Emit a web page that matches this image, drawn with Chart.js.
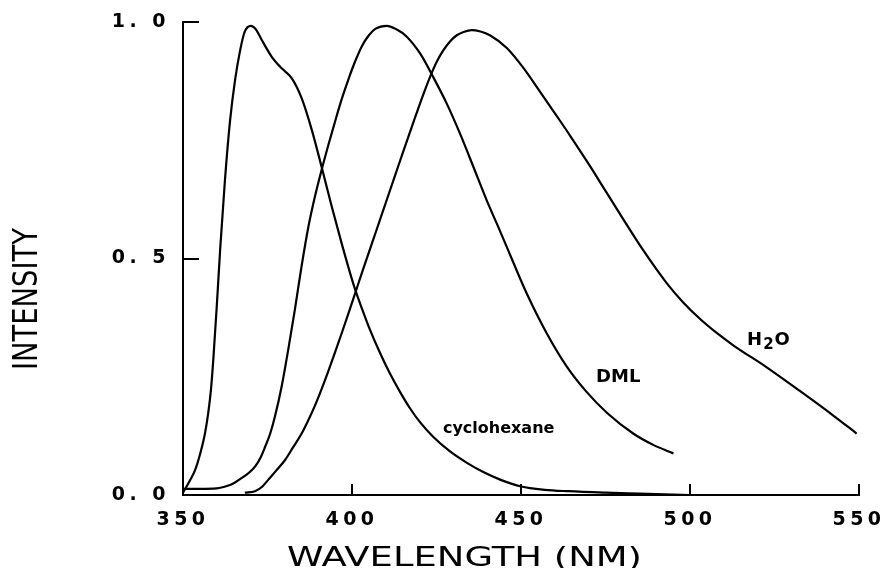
<!DOCTYPE html>
<html>
<head>
<meta charset="utf-8">
<script src="https://cdn.jsdelivr.net/npm/chart.js@4"></script>
<style>
  html, body { margin: 0; padding: 0; background: #fff; }
  #c { display: block; }
</style>
</head>
<body>
<canvas id="c" width="885" height="568"></canvas>
<script>
// ---- data ----
const cycloWavelength = [350, 352, 353.6, 355, 356.5, 357.5, 358.3, 359, 360, 361, 362.4, 363.9, 365.4, 366.9, 368.3, 370.1, 371.5, 373.3, 376.2, 379.2, 382.2, 385.1, 388.1, 391, 394, 396.9, 399.9, 401, 403, 405, 408, 411, 414.2, 417, 420, 424, 429, 434, 439, 444, 450, 457, 464, 475, 485, 495, 500];
const cycloIntensity  = [0.005, 0.03, 0.053, 0.085, 0.13, 0.175, 0.225, 0.29, 0.4, 0.52, 0.665, 0.79, 0.877, 0.94, 0.98, 0.992, 0.985, 0.962, 0.927, 0.902, 0.881, 0.839, 0.772, 0.694, 0.61, 0.533, 0.458, 0.433, 0.393, 0.355, 0.305, 0.26, 0.218, 0.185, 0.155, 0.123, 0.092, 0.068, 0.048, 0.032, 0.018, 0.011, 0.008, 0.005, 0.003, 0.001, 0];

const dmlWavelength = [350, 355, 360, 362, 363.9, 365.5, 367.4, 369.5, 371.3, 373, 374.3, 375.8, 377.2, 379.2, 381.2, 383.1, 385, 387.1, 389, 391, 393, 395, 397, 399, 401, 403, 405, 407, 410.3, 413, 416.2, 420.1, 424, 428, 431.9, 435.9, 439.8, 443.8, 447.7, 451.7, 457.6, 463.5, 469.4, 475.4, 483.2, 489.1, 495.1];
const dmlIntensity  = [0.013, 0.013, 0.014, 0.017, 0.021, 0.027, 0.036, 0.047, 0.06, 0.08, 0.102, 0.13, 0.166, 0.23, 0.31, 0.392, 0.48, 0.567, 0.63, 0.687, 0.74, 0.79, 0.838, 0.88, 0.918, 0.95, 0.972, 0.986, 0.992, 0.985, 0.969, 0.934, 0.884, 0.828, 0.765, 0.694, 0.624, 0.558, 0.492, 0.426, 0.342, 0.272, 0.218, 0.174, 0.13, 0.106, 0.088];

const waterWavelength = [368.3, 371.3, 373.5, 375.2, 377.5, 380.2, 382.5, 385.1, 387, 389.1, 391, 393, 395, 397, 399, 401, 403, 405, 407, 409, 411, 413, 415, 417, 419, 421, 423.1, 425, 427, 429, 431, 433, 435.4, 438, 440.8, 445.8, 450.7, 455.6, 460.6, 464.5, 470, 475, 480, 486.1, 493.1, 498, 503, 508, 512.9, 522.7, 532.5, 542.4, 549.3];
const waterIntensity  = [0.005, 0.008, 0.018, 0.032, 0.051, 0.074, 0.1, 0.13, 0.157, 0.19, 0.224, 0.262, 0.302, 0.343, 0.385, 0.428, 0.471, 0.513, 0.555, 0.597, 0.639, 0.681, 0.723, 0.764, 0.805, 0.845, 0.884, 0.915, 0.94, 0.959, 0.972, 0.979, 0.983, 0.98, 0.972, 0.945, 0.903, 0.853, 0.801, 0.76, 0.70, 0.643, 0.586, 0.518, 0.448, 0.407, 0.372, 0.342, 0.316, 0.27, 0.22, 0.168, 0.13];

const xTickValues = [350, 400, 450, 500, 550];
const yTickValues = [0, 0.5, 1.0];
const seriesNames = ['cyclohexane', 'DML', 'H2O'];
const xTitle = 'WAVELENGTH (NM)';
const yTitle = 'INTENSITY';

// ---- helpers ----
function toPoints(xs, ys) { return xs.map((x, i) => ({ x: x, y: ys[i] })); }

const lineStyle = {
  borderColor: '#000', borderWidth: 2.2, pointRadius: 0, fill: false,
  cubicInterpolationMode: 'monotone'
};

// curve label anchors (data coordinates: left edge / baseline)
const labelAnchors = [
  { name: 'cyclohexane', x: 426.9, y: 0.131 },
  { name: 'DML', x: 472.2, y: 0.239 },
  { name: 'H2O', x: 516.9, y: 0.317 }
];

const spacingPlugin = {
  id: 'spacing',
  beforeDraw(chart) { chart.ctx.letterSpacing = '4.5px'; }
};

const decorPlugin = {
  id: 'decor',
  afterDraw(chart) {
    const ctx = chart.ctx;
    const xs = chart.scales.x, ys = chart.scales.y;
    const area = chart.chartArea;
    ctx.save();
    ctx.letterSpacing = '0px';
    ctx.fillStyle = '#000';
    // curve labels
    ctx.textBaseline = 'alphabetic';
    ctx.textAlign = 'left';
    labelAnchors.forEach(l => {
      const px = xs.getPixelForValue(l.x), py = ys.getPixelForValue(l.y);
      if (l.name === 'H2O') {
        ctx.font = 'bold 18px "DejaVu Sans"';
        ctx.fillText('H', px, py);
        let w = ctx.measureText('H').width;
        ctx.font = 'bold 15px "DejaVu Sans"';
        ctx.fillText('2', px + w + 1, py + 4);
        let w2 = ctx.measureText('2').width;
        ctx.font = 'bold 18px "DejaVu Sans"';
        ctx.fillText('O', px + w + w2 + 2, py);
      } else if (l.name === 'DML') {
        ctx.font = 'bold 18px "DejaVu Sans"';
        ctx.fillText(l.name, px, py);
      } else {
        ctx.font = 'bold 16px "DejaVu Sans"';
        ctx.fillText(l.name, px, py);
      }
    });
    // x axis title (wide plotter-style lettering)
    ctx.font = '27px "DejaVu Sans"';
    const xw = ctx.measureText(xTitle).width;
    const xsx = 355 / xw;
    ctx.save();
    ctx.translate(area.left + 104, area.bottom + 71);
    ctx.scale(xsx, 1);
    ctx.textAlign = 'left';
    ctx.fillText(xTitle, 0, 0);
    ctx.restore();
    // y axis title (condensed lettering)
    ctx.font = '34px "DejaVu Sans"';
    const yw = ctx.measureText(yTitle).width;
    const ysx = 142 / yw;
    ctx.save();
    ctx.translate(37, 299);
    ctx.rotate(-Math.PI / 2);
    ctx.scale(ysx, 1);
    ctx.textAlign = 'center';
    ctx.fillText(yTitle, 0, 0);
    ctx.restore();
    ctx.restore();
  }
};

const tickFont = { family: '"DejaVu Sans"', weight: 'bold', size: 19 };

function noPad(s) { s.paddingLeft = 0; s.paddingRight = 0; s.paddingTop = 0; s.paddingBottom = 0; }

new Chart(document.getElementById('c'), {
  type: 'line',
  data: {
    datasets: [
      Object.assign({ label: seriesNames[0], data: toPoints(cycloWavelength, cycloIntensity) }, lineStyle),
      Object.assign({ label: seriesNames[1], data: toPoints(dmlWavelength, dmlIntensity) }, lineStyle),
      Object.assign({ label: seriesNames[2], data: toPoints(waterWavelength, waterIntensity) }, lineStyle)
    ]
  },
  options: {
    responsive: false,
    animation: false,
    layout: { autoPadding: false, padding: { top: 22, right: 26, left: 0, bottom: 0 } },
    plugins: { legend: { display: false }, tooltip: { enabled: false } },
    scales: {
      x: {
        type: 'linear', min: 350, max: 550,
        afterBuildTicks: s => { s.ticks = xTickValues.map(v => ({ value: v })); },
        afterFit: s => { s.height = 73; noPad(s); },
        ticks: {
          color: '#000', font: tickFont, padding: 25, maxRotation: 0, autoSkip: false,
          callback: v => String(v)
        },
        grid: { drawOnChartArea: false, drawTicks: true, tickLength: -11, color: '#000', lineWidth: 2 },
        border: { color: '#000', width: 2 }
      },
      y: {
        type: 'linear', min: 0, max: 1,
        afterBuildTicks: s => { s.ticks = yTickValues.map(v => ({ value: v })); },
        afterFit: s => { s.width = 183; noPad(s); },
        ticks: {
          color: '#000', font: tickFont, padding: 29,
          callback: v => { const t = Number(v).toFixed(1); return t[0] + '. ' + t[2]; }
        },
        grid: { drawOnChartArea: false, drawTicks: true, tickLength: -16, color: '#000', lineWidth: 2 },
        border: { color: '#000', width: 2 }
      }
    }
  },
  plugins: [spacingPlugin, decorPlugin]
});
</script>
</body>
</html>
